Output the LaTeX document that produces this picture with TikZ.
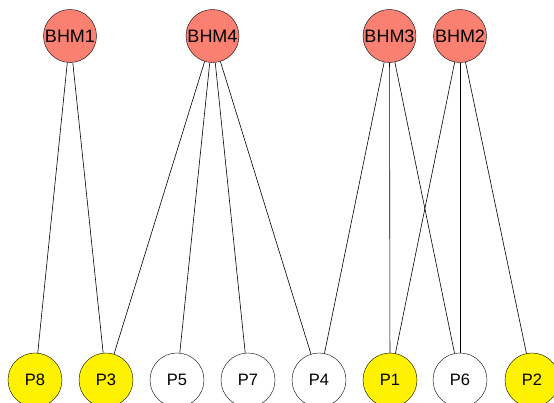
\documentclass[tikz,border=0pt]{standalone}
\usepackage{fontspec}
\setmainfont{Liberation Sans}
\definecolor{salmonc}{HTML}{FA8072}
\begin{document}
\begin{tikzpicture}[x=1pt,y=1pt,
  hub/.style={circle,draw=black,fill=salmonc,minimum size=53pt,inner sep=0pt,font=\fontsize{18}{20}\selectfont},
  leaf/.style={circle,draw=black,fill=white,minimum size=54pt,inner sep=0pt,font=\fontsize{16.5}{18}\selectfont},
  hit/.style={leaf,fill=yellow},
  link/.style={draw=black,line width=0.6pt}]
\useasboundingbox (0,0) rectangle (554,403);
\node[hub] (BHM1) at (70,367) {BHM1};
\node[hub] (BHM4) at (212.5,367) {BHM4};
\node[hub] (BHM3) at (389.5,367) {BHM3};
\node[hub] (BHM2) at (460,367) {BHM2};
\node[hit]  (P8) at (35,23) {P8};
\node[hit]  (P3) at (106,23) {P3};
\node[leaf] (P5) at (177,23) {P5};
\node[leaf] (P7) at (248,23) {P7};
\node[leaf] (P4) at (319,23) {P4};
\node[hit]  (P1) at (390,23) {P1};
\node[leaf] (P6) at (460,23) {P6};
\node[hit]  (P2) at (532,23) {P2};
\foreach \a/\b in {BHM1/P8,BHM1/P3,BHM4/P3,BHM4/P5,BHM4/P7,BHM4/P4,BHM3/P4,BHM3/P1,BHM3/P6,BHM2/P1,BHM2/P6,BHM2/P2}
  \draw[link] (\a) -- (\b);
\end{tikzpicture}
\end{document}
